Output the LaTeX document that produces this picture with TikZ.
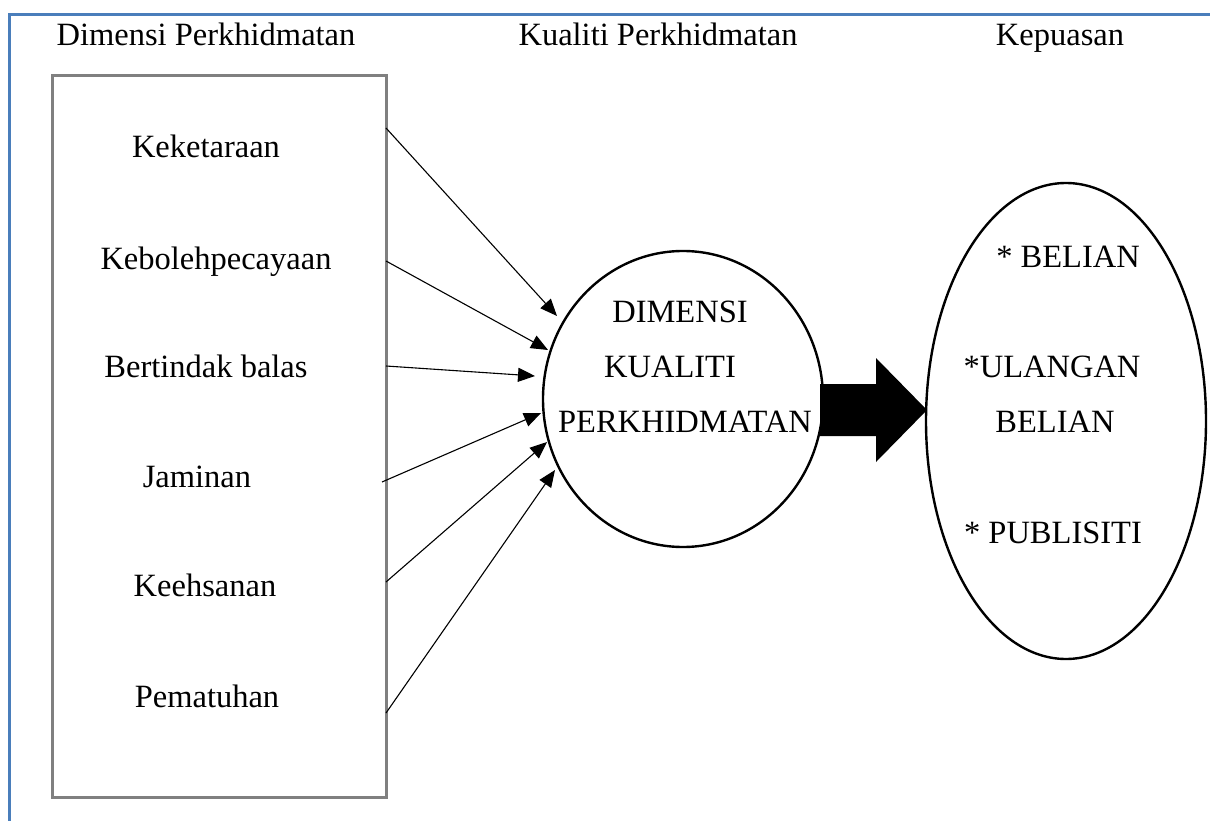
\documentclass[tikz,border=0pt]{standalone}
\usepackage{fontspec}
\setmainfont{Liberation Serif}
\usetikzlibrary{arrows.meta,shapes.geometric}
\definecolor{frameblue}{HTML}{4A7EBB}
\definecolor{boxgray}{HTML}{808080}
\begin{document}
\begin{tikzpicture}[x=1pt,y=-1pt,
  lbl/.style={inner sep=0pt,text height=21pt,text depth=0pt,font=\fontsize{32.5}{38}\selectfont},
  feed/.style={-{Triangle[length=17pt,width=14pt]},line width=1.1pt},
  framel/.style={draw=frameblue,line width=3pt},
  dimbox/.style={draw=boxgray,line width=3pt,rectangle,inner sep=0pt},
  oval/.style={draw,ellipse,line width=2.4pt,inner sep=0pt}]
\useasboundingbox (0,0) rectangle (1210,821);
% frame
\coordinate (fb) at (9,823);
\coordinate (fc) at (9,15);
\coordinate (fr) at (1212,15);
\draw[framel] (fb) -- (fc) -- (fr);
% titles
\node[lbl] (t1) at (206,35) {Dimensi Perkhidmatan};
\node[lbl] (t2) at (658,35) {Kualiti Perkhidmatan};
\node[lbl] (t3) at (1060,35) {Kepuasan};
% box
\node[dimbox,minimum width=334pt,minimum height=721pt] (box) at (219,436.5) {};
\node[lbl] (d1) at (206,147) {Keketaraan};
\node[lbl] (d2) at (216,259) {Kebolehpecayaan};
\node[lbl] (d3) at (206,367) {Bertindak balas};
\node[lbl] (d4) at (197,477) {Jaminan};
\node[lbl] (d5) at (205,586) {Keehsanan};
\node[lbl] (d6) at (207,697) {Pematuhan};
% circle
\node[oval,minimum width=280pt,minimum height=296pt] (kual) at (683,399) {};
\node[lbl] (k1) at (680,312) {DIMENSI};
\node[lbl] (k2) at (670,367) {KUALITI};
\node[lbl] (k3) at (685,422) {PERKHIDMATAN};
% ellipse
\node[oval,minimum width=280pt,minimum height=476pt] (kep) at (1066,421) {};
\node[lbl] (e1) at (1068,257) {* BELIAN};
\node[lbl] (e2) at (1052,367) {*ULANGAN};
\node[lbl] (e3) at (1055,422) {BELIAN};
\node[lbl] (e4) at (1053,533) {* PUBLISITI};
% feed arrows
\coordinate (s1) at (386,128); \coordinate (p1) at (557,316);
\coordinate (s2) at (386,261); \coordinate (p2) at (548,350);
\coordinate (s3) at (386,366); \coordinate (p3) at (535,376);
\coordinate (s4) at (382,482); \coordinate (p4) at (541,413);
\coordinate (s5) at (386,582); \coordinate (p5) at (547,442);
\coordinate (s6) at (386,713); \coordinate (p6) at (555,470);
\foreach \i in {1,...,6} {\draw[feed] (s\i) -- (p\i);}
% big arrow
\coordinate (bs) at (820,410);
\coordinate (bt) at (927,410);
\fill (bs) ++(0,-26) -- ++(56,0) -- ++(0,-26) -- (bt) -- ++(-51,52) -- ++(0,-26) -- ++(-56,0) -- cycle;
\end{tikzpicture}
\end{document}
